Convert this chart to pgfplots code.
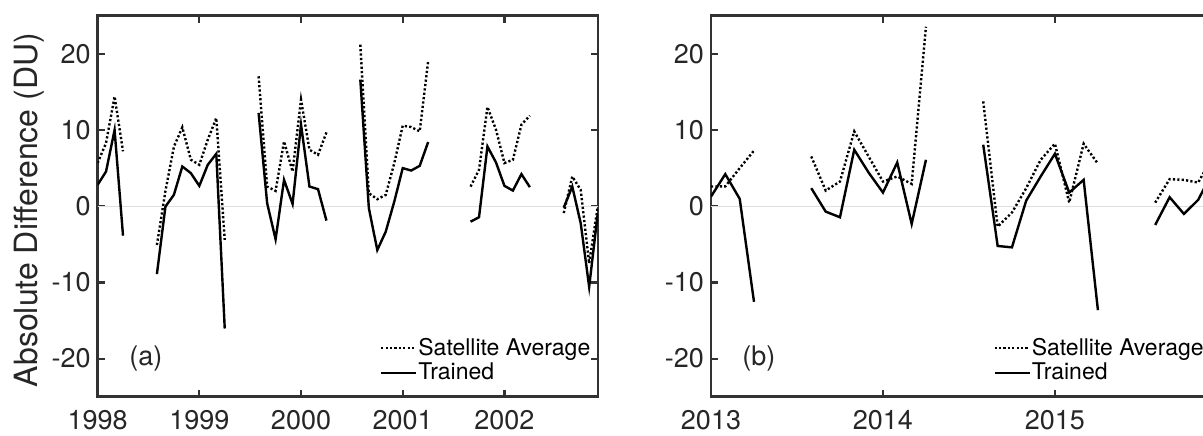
\documentclass[border=0pt]{standalone}
\usepackage{pgfplots}
\pgfplotsset{compat=1.18}
\usepackage{pgfplotstable}
\usepackage{fontspec}
\setmainfont{TeX Gyre Heros}

\pgfplotstableread{
x y
1998.000 2.8
1998.083 4.55
1998.167 10.0
1998.250 -3.87
nan nan
1998.583 -8.91
1998.667 -0.05
1998.750 1.49
1998.833 5.21
1998.917 4.34
1999.000 2.67
1999.083 5.43
1999.167 6.88
1999.250 -16.05
nan nan
1999.583 12.24
1999.667 0.39
1999.750 -4.34
1999.833 3.46
1999.917 0.30
2000.000 10.70
2000.083 2.58
2000.167 2.24
2000.250 -1.89
nan nan
2000.583 16.62
2000.667 -0.26
2000.750 -5.75
2000.833 -3.34
2000.917 0.61
2001.000 5.0
2001.083 4.68
2001.167 5.30
2001.250 8.42
nan nan
2001.667 -2.03
2001.750 -1.45
2001.833 7.84
2001.917 5.74
2002.000 2.67
2002.083 2.05
2002.167 4.21
2002.250 2.5
nan nan
2002.583 -0.2
2002.667 2.58
2002.750 -2.24
2002.833 -10.58
2002.917 -1.0
}\trainedA

\pgfplotstableread{
x y
1998.000 5.66
1998.083 8.3
1998.167 14.4
1998.250 7.2
nan nan
1998.583 -5.09
1998.667 2.0
1998.750 7.8
1998.833 10.35
1998.917 6.1
1999.000 5.43
1999.083 8.72
1999.167 11.57
1999.250 -4.43
nan nan
1999.583 17.05
1999.667 2.58
1999.750 2.01
1999.833 8.5
1999.917 4.55
2000.000 13.99
2000.083 7.41
2000.167 6.75
2000.250 9.68
nan nan
2000.583 21.2
2000.667 1.71
2000.750 0.92
2000.833 1.49
2000.917 5.66
2001.000 10.57
2001.083 10.39
2001.167 9.82
2001.250 19.03
nan nan
2001.667 2.58
2001.750 4.78
2001.833 13.03
2001.917 10.04
2002.000 5.66
2002.083 6.09
2002.167 10.7
2002.250 11.88
nan nan
2002.583 -0.9
2002.667 3.9
2002.750 2.14
2002.833 -7.5
2002.917 -0.1
}\satA

\pgfplotstableread{
x y
2013.000 1.26
2013.083 4.21
2013.167 0.96
2013.250 -12.55
nan nan
2013.583 2.37
2013.667 -0.71
2013.750 -1.45
2013.833 7.41
2013.917 4.4
2014.000 1.79
2014.083 5.74
2014.167 -2.33
2014.250 6.09
nan nan
2014.583 8.07
2014.667 -5.22
2014.750 -5.4
2014.833 0.74
2014.917 3.9
2015.000 6.88
2015.083 1.79
2015.167 3.46
2015.250 -13.64
nan nan
2015.583 -2.46
2015.667 1.18
2015.750 -1.01
2015.833 0.83
2015.917 4.5
}\trainedB

\pgfplotstableread{
x y
2013.000 2.58
2013.083 2.6
2013.167 5.0
2013.250 7.3
nan nan
2013.583 6.53
2013.667 2.05
2013.750 3.24
2013.833 9.82
2013.917 6.5
2014.000 3.24
2014.083 3.9
2014.167 2.93
2014.250 23.55
nan nan
2014.583 13.76
2014.667 -2.68
2014.750 -0.84
2014.833 2.37
2014.917 6.09
2015.000 8.2
2015.083 0.47
2015.167 8.2
2015.250 5.57
nan nan
2015.583 0.47
2015.667 3.55
2015.750 3.46
2015.833 3.1
2015.917 6.5
}\satB

\definecolor{axcol}{RGB}{50,50,50}

\pgfplotsset{
  panel/.style={
    scale only axis,
    width=250.2pt, height=190.5pt,
    anchor=south west,
    ymin=-25, ymax=25,
    ytick={-20,-10,0,10,20},
    tick pos=both,
    tick align=inside,
    major tick length=3.5pt,
    axis line style={line width=1.3pt, draw=axcol},
    major tick style={line width=1.1pt, draw=axcol},
    tick label style={font=\fontsize{13.5}{16}\selectfont, text=black!85},
    /pgf/number format/assume math mode=true,
    /pgf/number format/1000 sep={},
    xticklabel style={yshift=-3.5pt},
    extra y ticks={0},
    extra y tick labels={},
    extra y tick style={grid=major, major grid style={gray!25, line width=0.5pt}, major tick length=0pt},
    unbounded coords=jump,
    legend image code/.code={\draw[##1] (0pt,0pt) -- (17.5pt,0pt);},
    legend cell align=left,
    legend style={draw=none, fill=none, at={(rel axis cs:0.5635,0.158)}, anchor=north west,
      font=\fontsize{11.5}{13}\selectfont, inner sep=0pt, row sep=1.5pt,
      nodes={inner sep=0.5pt},
      /tikz/every even column/.append style={column sep=0.5pt}},
  },
  sat/.style={black, line width=1.2pt, dash pattern=on 1.1pt off 1.1pt},
  trn/.style={black, line width=1.2pt},
}

\begin{document}
\begin{tikzpicture}
\begin{axis}[panel, at={(48.8pt,19.15pt)},
  xmin=1998, xmax=2002.92,
  xtick={1998,1999,2000,2001,2002},
  ylabel={Absolute Difference (DU)},
  ylabel style={at={(axis cs:1997.3255,-0.5)}, anchor=center, font=\fontsize{16}{19}\selectfont, text=black!85},
]
\addplot[sat] table[x=x,y=y] {\satA};
\addlegendentry{Satellite Average}
\addplot[trn] table[x=x,y=y] {\trainedA};
\addlegendentry{Trained}
\node[font=\fontsize{13.5}{16}\selectfont, text=black!85] at (rel axis cs:0.0967,0.1008) {(a)};
\end{axis}
\begin{axis}[panel, at={(355.5pt,19.15pt)},
  xmin=2013, xmax=2015.91,
  xtick={2013,2014,2015},
]
\addplot[sat] table[x=x,y=y] {\satB};
\addlegendentry{Satellite Average}
\addplot[trn] table[x=x,y=y] {\trainedB};
\addlegendentry{Trained}
\node[font=\fontsize{13.5}{16}\selectfont, text=black!85] at (rel axis cs:0.0958,0.1008) {(b)};
\end{axis}
\pgfresetboundingbox
\useasboundingbox (0,0) rectangle (601.5pt,217.5pt);
\end{tikzpicture}
\end{document}
